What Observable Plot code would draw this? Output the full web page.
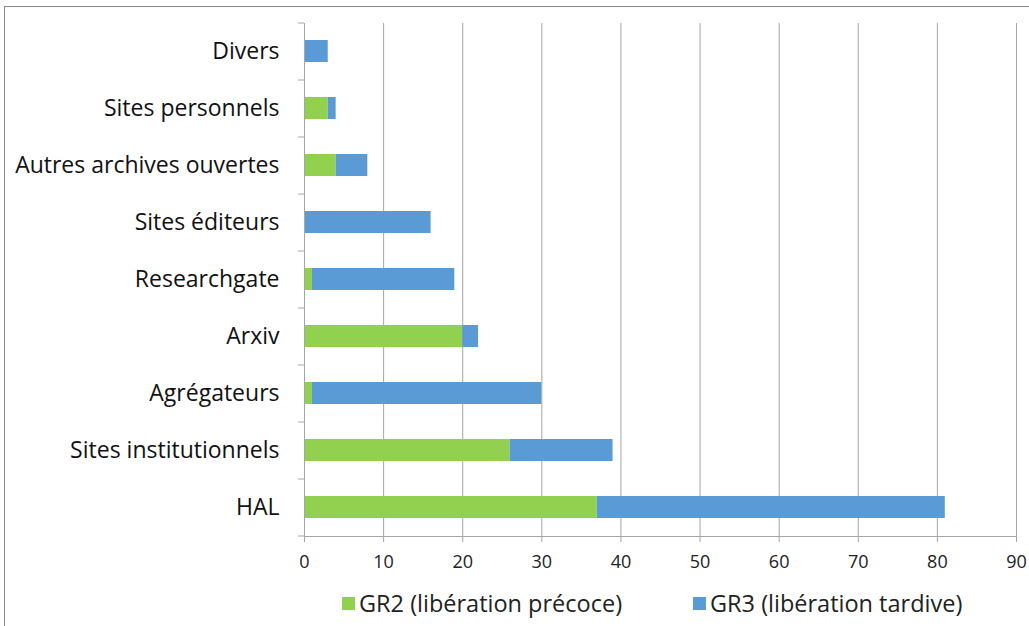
<!DOCTYPE html>
<html><head><meta charset="utf-8">
<script src="https://cdn.jsdelivr.net/npm/d3@7"></script>
<script src="https://cdn.jsdelivr.net/npm/@observablehq/plot@0.6"></script>
<style>
body{margin:0;background:#fff;font-family:"Open Sans",sans-serif;}
#frame{position:absolute;left:4px;top:6px;width:1030px;height:640px;border:1px solid #8a8a8a;box-sizing:border-box;}
#chart{position:absolute;left:0;top:0;}
#legend{position:absolute;top:587px;left:0;width:1029px;font-size:23.5px;color:#222;}
.item{position:absolute;display:flex;align-items:center;white-space:nowrap;}
.sw{width:13px;height:13px;margin-right:4px;}
</style></head>
<body>
<div id="frame"></div>
<div id="chart"></div>
<div id="legend"></div>
<script>
const categories = ["Divers","Sites personnels","Autres archives ouvertes","Sites éditeurs","Researchgate","Arxiv","Agrégateurs","Sites institutionnels","HAL"];
const gr2 = [0,3,4,0,1,20,1,26,37];
const gr3 = [3,1,4,16,18,2,29,13,44];
const seriesNames = ["GR2 (libération précoce)","GR3 (libération tardive)"];
const seriesColors = ["#92d050","#5b9bd5"];
const xTicks = [0,10,20,30,40,50,60,70,80,90];

const data = [];
categories.forEach((c,i)=>{
  data.push({cat:c, series:seriesNames[0], value:gr2[i]});
  data.push({cat:c, series:seriesNames[1], value:gr3[i]});
});

const H = 575;
const marginTop = 23, marginBottom = 39;
const step = (H - marginTop - marginBottom) / categories.length;

const chart = Plot.plot({
  width: 1029,
  height: H,
  marginLeft: 304,
  marginRight: 13,
  marginTop, marginBottom,
  style: {fontFamily: "'Open Sans', sans-serif", background: "transparent"},
  x: {domain:[0,90]},
  y: {domain: categories, paddingInner: 0.61, paddingOuter: 0.305},
  color: {domain: seriesNames, range: seriesColors},
  marks: [
    Plot.gridX(xTicks, {stroke:"#a6a6a6", strokeOpacity:1, strokeWidth:1}),
    Plot.axisX(xTicks, {tickSize:6, stroke:"#a6a6a6", tickPadding:13, fontSize:18, fill:"#222", label:null}),
    Plot.barX(data, Plot.stackX({x:"value", y:"cat", fill:"series", order: seriesNames})),
    Plot.axisY({tickSize:0, tickPadding:25, fontSize:23, fill:"#111", label:null}),
    Plot.axisY({tickSize:6, tickFormat:null, stroke:"#a6a6a6", dy: step/2, label:null}),
    Plot.axisY(["Divers"], {tickSize:6, tickFormat:null, stroke:"#a6a6a6", dy: -step/2, label:null}),
    Plot.frame({anchor:"left", stroke:"#a6a6a6"}),
    Plot.frame({anchor:"bottom", stroke:"#a6a6a6"})
  ]
});
document.getElementById("chart").appendChild(chart);

const legend = document.getElementById("legend");
const lefts = [342, 693];
seriesNames.forEach((n,i)=>{
  const d = document.createElement("div");
  d.className="item";
  d.style.left = lefts[i]+"px";
  d.innerHTML = `<span class="sw" style="background:${seriesColors[i]}"></span><span>${n}</span>`;
  legend.appendChild(d);
});
</script>
</body></html>
